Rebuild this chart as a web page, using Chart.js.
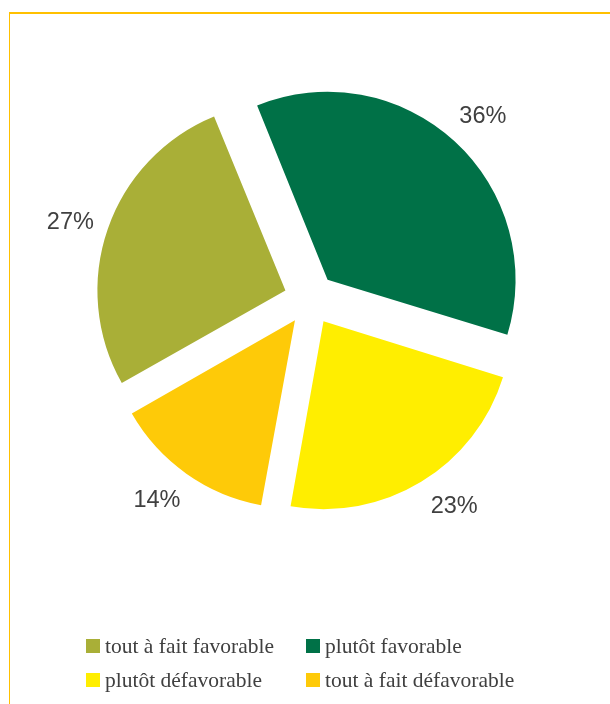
<!DOCTYPE html>
<html>
<head>
<meta charset="utf-8">
<script src="https://cdn.jsdelivr.net/npm/chart.js@4"></script>
<style>
  html, body { margin: 0; padding: 0; background: #fff; }
  #wrap { position: relative; width: 610px; height: 704px; overflow: hidden; }
  #topline { position: absolute; left: 9px; top: 12px; width: 610px; height: 2px; background: #FFC000; z-index: 2; }
  #leftline { position: absolute; left: 9px; top: 12px; width: 1px; height: 700px; background: #FFC000; z-index: 2; }
  canvas { position: absolute; left: 0; top: 0; }
  .lg { position: absolute; font-family: "Liberation Serif", "Times New Roman", serif;
        font-size: 21.5px; line-height: 21px; color: #404040; white-space: nowrap; }
  .sw { position: absolute; width: 14px; height: 14px; }
</style>
</head>
<body>
<div id="wrap">
  <canvas id="c" width="610" height="704"></canvas>
  <div id="topline"></div>
  <div id="leftline"></div>
  <div id="legend"></div>
</div>
<script>
const categories = ["tout à fait favorable", "plutôt favorable", "plutôt défavorable", "tout à fait défavorable"];
const values = [27, 36, 23, 14];
const labelsText = ["27%", "36%", "23%", "14%"];
const colors = ["#A9AF37", "#007147", "#FFEE00", "#FECA08"];

// keep every exploded slice at the same outer radius
const origArcDraw = Chart.ArcElement.prototype.draw;
Chart.ArcElement.prototype.draw = function (ctx) {
  const off = (this.options.offset || 0) / 4;
  const fix = 1 - Math.sin(Math.min(Math.PI, this.circumference || 0));
  const saved = this.outerRadius;
  this.outerRadius = saved - off * fix;
  origArcDraw.call(this, ctx);
  this.outerRadius = saved;
};

const labelAngleNudge = [-1.1, 0.8, -3.6, 2.1]; // degrees
const pctLabels = {
  id: 'pctLabels',
  afterDatasetsDraw(chart) {
    const ctx = chart.ctx;
    const meta = chart.getDatasetMeta(0);
    ctx.save();
    ctx.font = '23.5px "Liberation Sans", Arial, sans-serif';
    ctx.fillStyle = '#404040';
    ctx.textAlign = 'center';
    ctx.textBaseline = 'middle';
    meta.data.forEach((arc, i) => {
      const mid = (arc.startAngle + arc.endAngle) / 2 + labelAngleNudge[i] * Math.PI / 180;
      const r = 252;
      ctx.fillText(labelsText[i], arc.x + Math.cos(mid) * r, arc.y + Math.sin(mid) * r + 1);
    });
    ctx.restore();
  }
};

new Chart(document.getElementById('c'), {
  type: 'pie',
  data: {
    labels: categories,
    datasets: [{
      data: values,
      backgroundColor: colors,
      borderWidth: 0,
      offset: 104,
      hoverOffset: 0
    }]
  },
  options: {
    responsive: false,
    animation: false,
    devicePixelRatio: 1,
    rotation: 240.5,
    radius: 188,
    layout: { padding: { left: 10, right: 0, top: 0, bottom: 106 } },
    events: [],
    plugins: { legend: { display: false }, tooltip: { enabled: false } }
  },
  plugins: [pctLabels]
});

// HTML legend (2 x 2 grid)
const lg = document.getElementById('legend');
const cols = [86, 306];
const rows = [639, 673];
categories.forEach((name, i) => {
  const x = cols[i % 2], y = rows[Math.floor(i / 2)];
  const sw = document.createElement('div');
  sw.className = 'sw';
  sw.style.left = x + 'px';
  sw.style.top = y + 'px';
  sw.style.background = colors[i];
  lg.appendChild(sw);
  const t = document.createElement('div');
  t.className = 'lg';
  t.style.left = (x + 19) + 'px';
  t.style.top = (y - 3) + 'px';
  t.textContent = name;
  lg.appendChild(t);
});
</script>
</body>
</html>
